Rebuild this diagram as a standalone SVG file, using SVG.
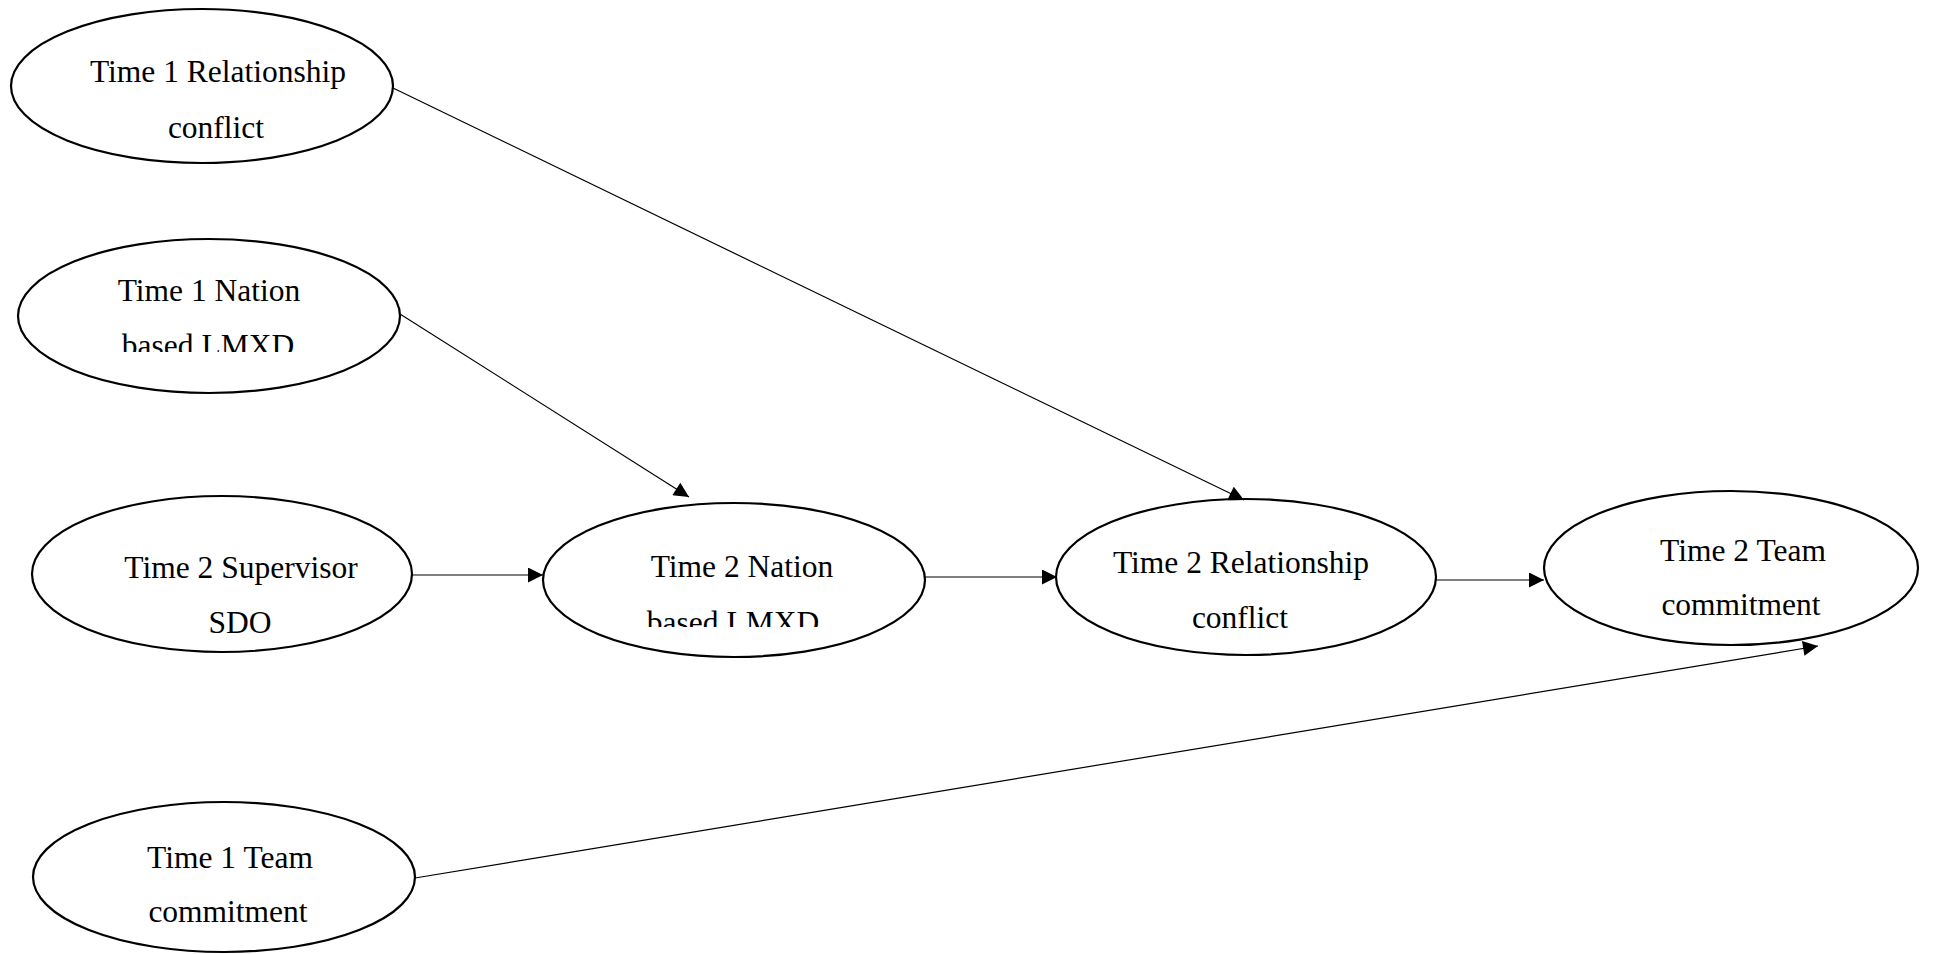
<svg xmlns="http://www.w3.org/2000/svg" width="1937" height="954" viewBox="0 0 1937 954">
<style>
.node ellipse{fill:#fff;stroke:#000;stroke-width:2.2}
.node text{font-family:"Liberation Serif","Times New Roman",serif;font-size:31.5px;fill:#000;text-anchor:middle}
.conn line{stroke:#000;stroke-width:1.2}
</style>
<defs>
<marker id="arr" viewBox="0 0 10 10" refX="10" refY="5" markerWidth="17" markerHeight="15" markerUnits="userSpaceOnUse" orient="auto">
<path d="M0,0 L10,5 L0,10 Z" fill="#000"/>
</marker>
<clipPath id="c1"><rect x="0" y="0" width="1937" height="352"/></clipPath>
<clipPath id="c2"><rect x="0" y="0" width="1937" height="627"/></clipPath>
</defs>
<rect width="1937" height="954" fill="#fff"/>
<g id="t1rc" class="node">
<ellipse cx="202" cy="86" rx="191" ry="77"/>
<text x="218" y="82">Time 1 Relationship</text>
<text x="216" y="138">conflict</text>
</g>
<g id="t1nation" class="node">
<ellipse cx="209" cy="316" rx="191" ry="77"/>
<text x="209" y="301">Time 1 Nation</text>
<text x="208" y="356" clip-path="url(#c1)">based LMXD</text>
</g>
<g id="t2sdo" class="node">
<ellipse cx="222" cy="574" rx="190" ry="78"/>
<text x="241" y="578">Time 2 Supervisor</text>
<text x="240" y="633">SDO</text>
</g>
<g id="t2nation" class="node">
<ellipse cx="734" cy="580" rx="191" ry="77"/>
<text x="742" y="577">Time 2 Nation</text>
<text x="733" y="633" clip-path="url(#c2)">based LMXD</text>
</g>
<g id="t2rc" class="node">
<ellipse cx="1246" cy="577" rx="190" ry="78"/>
<text x="1241" y="573">Time 2 Relationship</text>
<text x="1240" y="628">conflict</text>
</g>
<g id="t2team" class="node">
<ellipse cx="1731" cy="568" rx="187" ry="77"/>
<text x="1743" y="561">Time 2 Team</text>
<text x="1741" y="615">commitment</text>
</g>
<g id="t1team" class="node">
<ellipse cx="224" cy="877" rx="191" ry="75"/>
<text x="230" y="868">Time 1 Team</text>
<text x="228" y="922">commitment</text>
</g>
<g id="connectors" class="conn">
<line x1="393" y1="88" x2="1244" y2="500" marker-end="url(#arr)"/>
<line x1="400" y1="314" x2="689" y2="497" marker-end="url(#arr)"/>
<line x1="413" y1="575" x2="543" y2="575" marker-end="url(#arr)"/>
<line x1="925" y1="577" x2="1057" y2="577" marker-end="url(#arr)"/>
<line x1="1436" y1="580" x2="1544" y2="580" marker-end="url(#arr)"/>
<line x1="415" y1="878" x2="1818" y2="646" marker-end="url(#arr)"/>
</g>
</svg>
